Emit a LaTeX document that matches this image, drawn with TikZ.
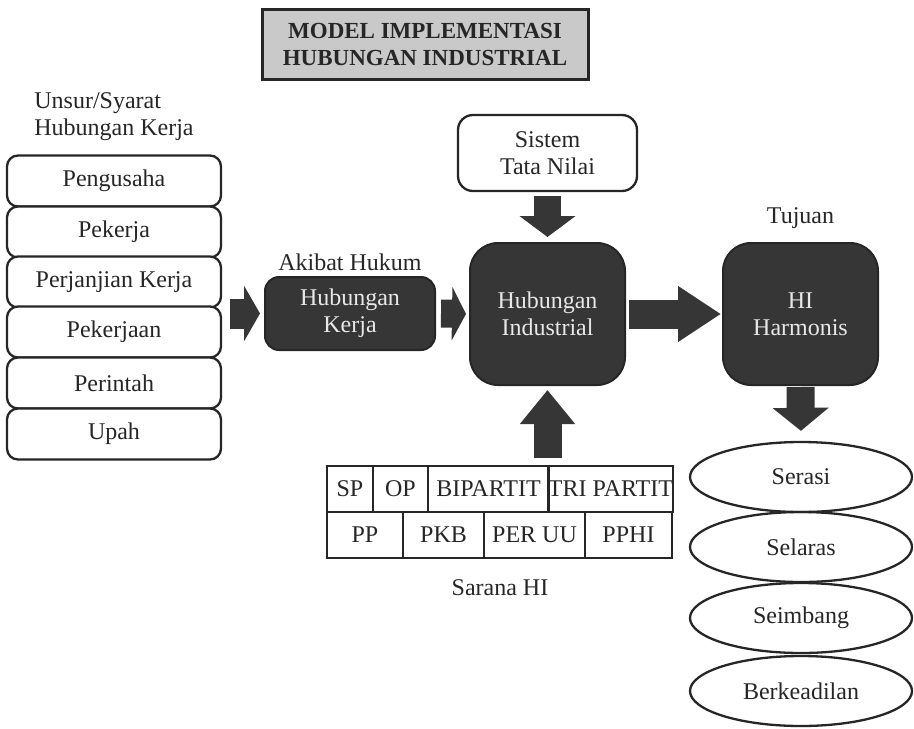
\documentclass[tikz,border=0pt]{standalone}
\usepackage{fontspec}
\setmainfont{Liberation Serif}
\usetikzlibrary{shapes.geometric,arrows.meta}

\definecolor{ink}{HTML}{262626}
\definecolor{darkbox}{HTML}{363636}
\definecolor{lighttext}{HTML}{E8E8E8}
\definecolor{titlegray}{HTML}{C9C9C9}

\tikzset{
  txt/.style={font=\fontsize{24}{27}\selectfont, text=ink, align=center, inner sep=0pt},
  whitebox/.style={txt, draw=ink, fill=white, line width=2.3pt, rounded corners=11pt},
  darkblock/.style={txt, text=lighttext, draw=ink, fill=darkbox, line width=2pt},
  cell/.style={txt, draw=ink, line width=2.3pt, minimum height=46pt},
  goal/.style={txt, ellipse, draw=ink, line width=2.3pt, minimum width=222pt, minimum height=70pt},
  fatarrow/.style={draw=darkbox, line width=#1}
}

\begin{document}
\begin{tikzpicture}[x=1pt,y=-1pt]
\useasboundingbox (0,0) rectangle (914,729);

% title
\node[txt, font=\fontsize{23}{27}\selectfont\bfseries, draw=ink, fill=titlegray,
      line width=3pt, minimum width=326pt, minimum height=70pt] (title) at (425,44)
  {MODEL IMPLEMENTASI\\HUBUNGAN INDUSTRIAL};

% elements of the employment relationship
\node[txt, align=left] (unsur) at (114,117) {Unsur/Syarat\\Hubungan Kerja};
\foreach \n/\y/\t in {p1/181/Pengusaha, p2/232/Pekerja, p3/282/Perjanjian Kerja,
                      p4/332/Pekerjaan, p5/383/Perintah, p6/434/Upah}
  \node[whitebox, minimum width=214pt, minimum height=51pt] (\n) at (114,\y) {\t};

% legal consequence
\node[txt] (akibat) at (350,262) {Akibat Hukum};
\node[darkblock, rounded corners=14pt, minimum width=170pt, minimum height=73pt]
  (hk) at (350,313.5) {Hubungan\\Kerja};

% industrial relations core
\node[darkblock, rounded corners=28pt, minimum width=155pt, minimum height=142pt]
  (hi) at (547.5,314) {Hubungan\\Industrial};
\node[whitebox, rounded corners=15pt, minimum width=179pt, minimum height=76pt]
  (sistem) at (547.5,153) {Sistem\\Tata Nilai};

% goal
\node[txt] (tujuan) at (800.5,218) {Tujuan};
\node[darkblock, rounded corners=28pt, minimum width=155pt, minimum height=142pt]
  (harm) at (800.5,314) {HI\\Harmonis};

% means of industrial relations
\node[cell, minimum width=46pt]  (c1) at (350,489)   {SP};
\node[cell, minimum width=55pt]  (c2) at (400.5,489) {OP};
\node[cell, minimum width=121pt] (c3) at (488.5,489) {BIPARTIT};
\node[cell, minimum width=123pt] (c4) at (610.5,489) {TRI PARTIT};
\node[cell, minimum width=76pt]  (d1) at (365,535)   {PP};
\node[cell, minimum width=81pt]  (d2) at (443.5,535) {PKB};
\node[cell, minimum width=101pt] (d3) at (534.5,535) {PER UU};
\node[cell, minimum width=87pt]  (d4) at (628.5,535) {PPHI};
\node[txt] (sarana) at (500,588) {Sarana HI};

% harmonious outcomes
\node[goal] (e1) at (801,477) {Serasi};
\node[goal] (e2) at (801,547) {Selaras};
\node[goal] (e3) at (801,618) {Seimbang};
\node[goal] (e4) at (801,691) {Berkeadilan};

% block arrows
\draw[fatarrow=30pt, -{Triangle[length=16pt,width=55pt]}, shorten <=8pt, shorten >=4pt]
  (hk.west -| p3.east) -- (hk.west);
\draw[fatarrow=28pt, -{Triangle[length=14pt,width=53pt]}, shorten <=5pt, shorten >=3pt]
  (hk.east) -- (hi.west);
\draw[fatarrow=27pt, -{Triangle[length=21pt,width=55pt]}, shorten <=4pt, shorten >=5pt]
  (sistem.south) -- (hi.north);
\draw[fatarrow=29pt, -{Triangle[length=43pt,width=53pt]}, shorten <=3pt, shorten >=1pt]
  (hi.east) -- (harm.west);
\draw[fatarrow=28pt, -{Triangle[length=23pt,width=55pt]}, shorten <=1pt, shorten >=10pt]
  (harm.south) -- (e1.north);
\draw[fatarrow=28pt, -{Triangle[length=34pt,width=53pt]}, shorten <=7pt, shorten >=4pt]
  (hi.south |- c3.north) -- (hi.south);
\end{tikzpicture}
\end{document}
